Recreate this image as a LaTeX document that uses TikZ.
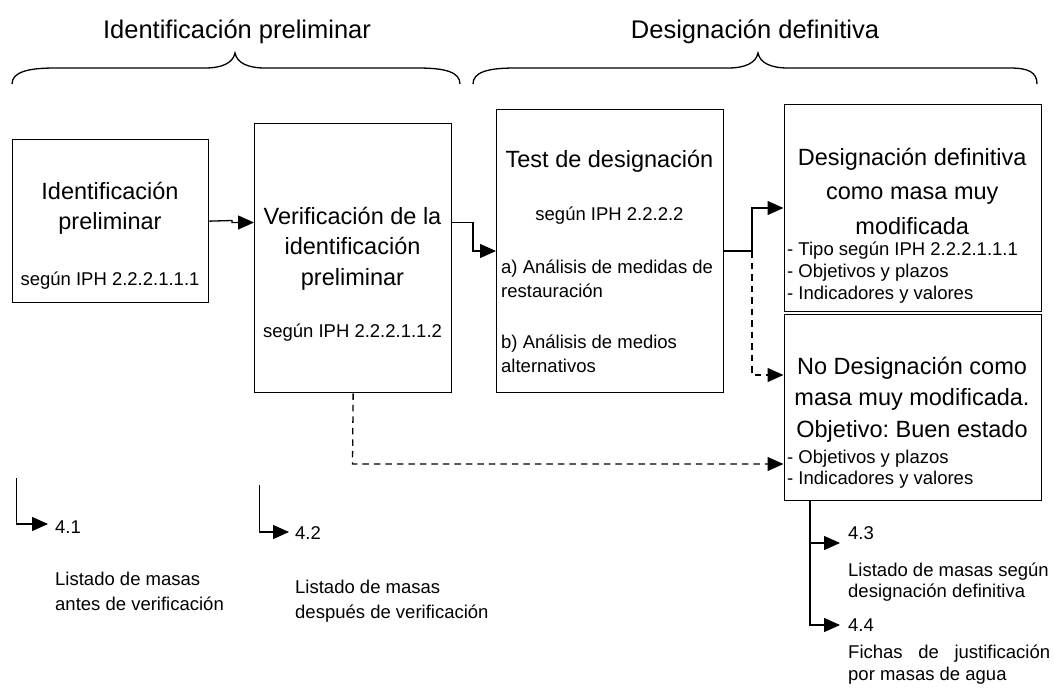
\documentclass[tikz,border=0pt]{standalone}
\usepackage{fontspec}
\setmainfont{Liberation Sans}
\usetikzlibrary{arrows.meta}
\newcommand\fbig[1]{\fontsize{23.5}{#1}\selectfont}
\newcommand\fsmall[1]{\fontsize{18.5}{#1}\selectfont}
\frenchspacing
\begin{document}
\frenchspacing
\begin{tikzpicture}[x=1pt,y=-1pt,
  box/.style={draw, line width=1.3pt, inner sep=0pt, anchor=north west},
  txt/.style={inner sep=0pt},
  conn/.style={line width=1.3pt},
  arr/.style={line width=1.3pt, -{Triangle[length=16pt,width=14pt]}},
  dsh/.style={dash pattern=on 6.5pt off 5pt},
  brace/.style={line width=1.3pt}]
\useasboundingbox (0,0) rectangle (1054,689);

% titles and braces
\node[txt, anchor=base, font=\fontsize{25.5}{30}\selectfont] (T1) at (237,38.5) {Identificación preliminar};
\node[txt, anchor=base, font=\fontsize{25.5}{30}\selectfont] (T2) at (755,38.5) {Designación definitiva};
\draw[brace] (12,84) .. controls (12,72) and (28,68) .. (55,68) -- (205,68)
  .. controls (222,68) and (233,63) .. (235,53) .. controls (237,63) and (248,68) .. (265,68)
  -- (418,68) .. controls (445,68) and (460,72) .. (460,84);
\draw[brace] (473,84) .. controls (473,72) and (488,68) .. (515,68) -- (728,68)
  .. controls (745,68) and (756,63) .. (758,53) .. controls (760,63) and (771,68) .. (788,68)
  -- (1010,68) .. controls (1028,68) and (1037,72) .. (1037,84);

% boxes
\node[box, minimum width=196pt, minimum height=163pt] (b1) at (12,139) {};
\node[box, minimum width=197pt, minimum height=269pt] (b2) at (254,123) {};
\node[box, minimum width=227pt, minimum height=283pt] (b3) at (496,109) {};
\node[box, minimum width=257.5pt, minimum height=207pt] (b4) at (783.5,104) {};
\node[box, minimum width=257pt, minimum height=186pt] (b5) at (783.5,314) {};

% box texts
\node[txt, anchor=north, align=center, font=\fbig{30}] (t1) at (110,178) {\strut Identificación\\preliminar};
\node[txt, anchor=base, font=\fsmall{22}] (s1) at (110,285.5) {según IPH 2.2.2.1.1.1};

\node[txt, anchor=north, align=center, font=\fbig{30.5}] (t2) at (352.5,202.6) {\strut Verificación de la\\identificación\\preliminar};
\node[txt, anchor=base, font=\fsmall{22}] (s2) at (352.5,337) {según IPH 2.2.2.1.1.2};

\node[txt, anchor=base, font=\fbig{30}] (t3) at (609.5,167) {Test de designación};
\node[txt, anchor=base, font=\fsmall{22}] (s3) at (609.5,220) {según IPH 2.2.2.2};
\node[txt, anchor=north west, align=left, font=\fsmall{24.5}] (a3) at (501,255.85) {\strut a) Análisis de medidas de\\restauración};
\node[txt, anchor=north west, align=left, font=\fsmall{24.5}] (c3) at (501,330.85) {\strut b) Análisis de medios\\alternativos};

\node[txt, anchor=north, align=center, font=\fbig{34.5}] (t4) at (912.25,141) {\strut Designación definitiva\\como masa muy\\modificada};
\node[txt, anchor=north west, align=left, font=\fsmall{22}] (l4) at (787,239.5) {\strut - Tipo según IPH 2.2.2.1.1.1\\- Objetivos y plazos\\- Indicadores y valores};

\node[txt, anchor=north, align=center, font=\fbig{31.5}] (t5) at (912,352) {\strut No Designación como\\masa muy modificada.\\Objetivo: Buen estado};
\node[txt, anchor=north west, align=left, font=\fsmall{21}] (l5) at (787,448.3) {\strut - Objetivos y plazos\\- Indicadores y valores};

% output labels
\node[txt, anchor=base west, font=\fsmall{22}] (n41) at (55,533) {4.1};
\node[txt, anchor=north west, align=left, font=\fsmall{25}] (L1) at (55,567.5) {\strut Listado de masas\\antes de verificación};
\node[txt, anchor=base west, font=\fsmall{22}] (n42) at (295,539) {4.2};
\node[txt, anchor=north west, align=left, font=\fsmall{25}] (L2) at (295,575.5) {\strut Listado de masas\\después de verificación};
\node[txt, anchor=base west, font=\fsmall{22}] (n43) at (848,539) {4.3};
\node[txt, anchor=north west, align=left, font=\fsmall{21}] (L3) at (848,561.3) {\strut Listado de masas según\\designación definitiva};
\node[txt, anchor=base west, font=\fsmall{22}] (n44) at (848,631) {4.4};
\node[txt, anchor=north west, align=left, font=\fsmall{22}] (L4) at (848,642.6) {\strut\makebox[202pt][s]{Fichas de justificación}\\por masas de agua};

% junction coordinates
\coordinate (j1a) at (232,220.5);
\coordinate (j1b) at (232,222.5);
\coordinate (j2a) at (473,222.5);
\coordinate (j2b) at (473,251);
\coordinate (j3) at (752,251);
\coordinate (j3t) at (752,208);
\coordinate (j3d) at (752,375);
\coordinate (j4) at (352.5,464);
\coordinate (c41a) at (16.5,478);
\coordinate (c41b) at (16.5,524);
\coordinate (c42a) at (259.5,485);
\coordinate (c42b) at (259.5,532);
\coordinate (v43) at (810,543);
\coordinate (v44) at (810,625);

% connectors
\draw[arr] (b1.east) -- (j1a) -- (j1b) -- (j1b -| b2.west);
\draw[arr] (b2.east |- j2a) -- (j2a) -- (j2b) -- (j2b -| b3.west);
\draw[arr] (b3.east |- j3) -- (j3) -- (j3t) -- (j3t -| b4.west);
\draw[arr, dsh] (j3) -- (j3d) -- (j3d -| b5.west);
\draw[arr, dsh] (b2.south) -- (j4) -- (j4 -| b5.west);
\draw[arr, shorten >=7pt] (c41a) -- (c41b) -- (c41b -| n41.west);
\draw[arr, shorten >=6pt] (c42a) -- (c42b) -- (c42b -| n42.west);
\draw[arr, shorten >=8pt] (b5.south -| v44) -- (v44) -- (v44 -| n44.west);
\draw[arr, shorten >=8pt] (v43) -- (v43 -| n43.west);
\end{tikzpicture}
\end{document}
